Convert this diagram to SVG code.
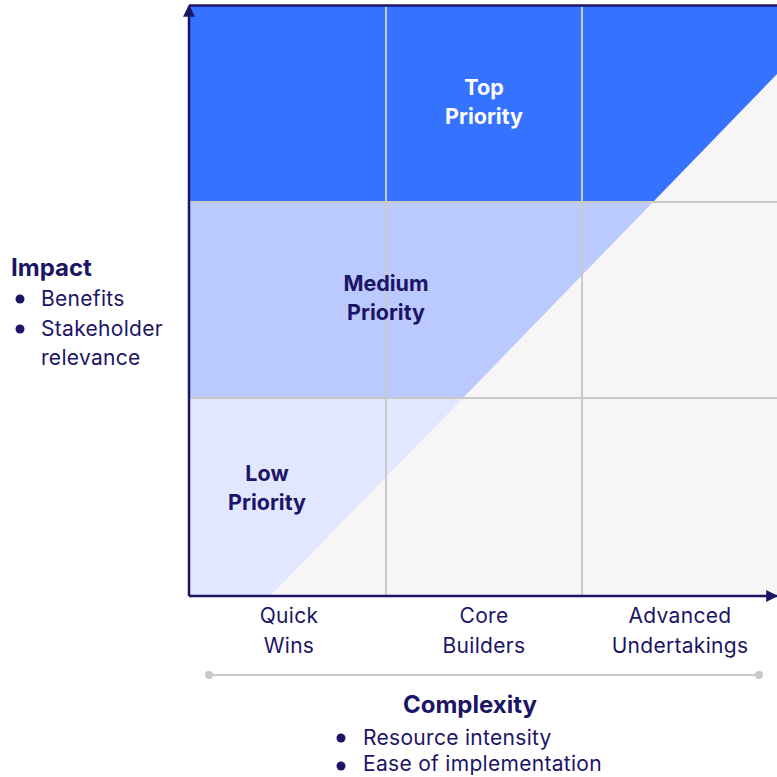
<svg xmlns="http://www.w3.org/2000/svg" width="777" height="777" viewBox="0 0 777 777">
<style>
text{font-family:Inter,"Open Sans","Liberation Sans",sans-serif;fill:#1c1565}
.b{font-weight:700}
.w{fill:#ffffff}
.lbl{font-size:21px;letter-spacing:0.3px}
.blbl{font-size:21.5px}
.grid{stroke:#c9c9c9;stroke-width:2;fill:none}
.axis{stroke:#1c1565;stroke-width:2.5;fill:none}
.dot{fill:#1c1565}
</style>
<defs>
<marker id="ah2" viewBox="0 0 10 10" refX="9" refY="5" markerWidth="12" markerHeight="12" orient="auto" markerUnits="userSpaceOnUse">
<path d="M0,0 L10,5 L0,10 z" fill="#1c1565"/>
</marker>
</defs>
<rect width="777" height="777" fill="#ffffff"/>
<g id="chart">
<rect x="189" y="6" width="588" height="590" fill="#f7f5f6"/>
<polygon points="189,6 777,6 777,74 653,202 189,202" fill="#3572ff"/>
<polygon points="189,202 653,202 463,398 189,398" fill="#bacaff"/>
<polygon points="189,398 463,398 270,596 189,596" fill="#e1e7ff"/>
<line class="grid" x1="386" y1="6" x2="386" y2="596"/>
<line class="grid" x1="582" y1="6" x2="582" y2="596"/>
<line class="grid" x1="189" y1="202" x2="777" y2="202"/>
<line class="grid" x1="189" y1="398" x2="777" y2="398"/>
</g>
<g id="connectors">
<line class="axis" x1="189" y1="5.5" x2="777" y2="5.5"/>
<line class="axis" x1="189" y1="596" x2="189" y2="6" marker-end="url(#ah2)"/>
<line class="axis" x1="189" y1="596" x2="777" y2="596" marker-end="url(#ah2)"/>
<g id="scale">
<line x1="209" y1="675" x2="759" y2="675" stroke="#c9c9c9" stroke-width="2"/>
<circle cx="209" cy="675" r="4" fill="#c9c9c9"/>
<circle cx="759" cy="675" r="4" fill="#c9c9c9"/>
</g>
</g>
<g id="top-priority">
<text class="b w blbl" x="484" y="95" text-anchor="middle">Top</text>
<text class="b w blbl" x="484" y="124" text-anchor="middle">Priority</text>
</g>
<g id="medium-priority">
<text class="b blbl" x="386" y="291" text-anchor="middle">Medium</text>
<text class="b blbl" x="386" y="320" text-anchor="middle">Priority</text>
</g>
<g id="low-priority">
<text class="b blbl" x="267" y="481" text-anchor="middle">Low</text>
<text class="b blbl" x="267" y="510" text-anchor="middle">Priority</text>
</g>
<g id="impact">
<text class="b" x="11" y="276" font-size="24">Impact</text>
<circle class="dot" cx="20" cy="299" r="4.5"/>
<text class="lbl" x="41" y="306">Benefits</text>
<circle class="dot" cx="20" cy="329" r="4.5"/>
<text class="lbl" x="41" y="336">Stakeholder</text>
<text class="lbl" x="41" y="365">relevance</text>
</g>
<g id="x-labels">
<text class="lbl" x="289" y="623" text-anchor="middle">Quick</text>
<text class="lbl" x="289" y="653" text-anchor="middle">Wins</text>
<text class="lbl" x="484" y="623" text-anchor="middle">Core</text>
<text class="lbl" x="484" y="653" text-anchor="middle">Builders</text>
<text class="lbl" x="680" y="623" text-anchor="middle">Advanced</text>
<text class="lbl" x="680" y="653" text-anchor="middle">Undertakings</text>
</g>
<g id="complexity">
<text class="b" x="470" y="713" font-size="24" text-anchor="middle">Complexity</text>
<circle class="dot" cx="341" cy="738" r="4.5"/>
<text class="lbl" x="363" y="745">Resource intensity</text>
<circle class="dot" cx="341" cy="766" r="4.5"/>
<text class="lbl" x="363" y="771">Ease of implementation</text>
</g>
</svg>
